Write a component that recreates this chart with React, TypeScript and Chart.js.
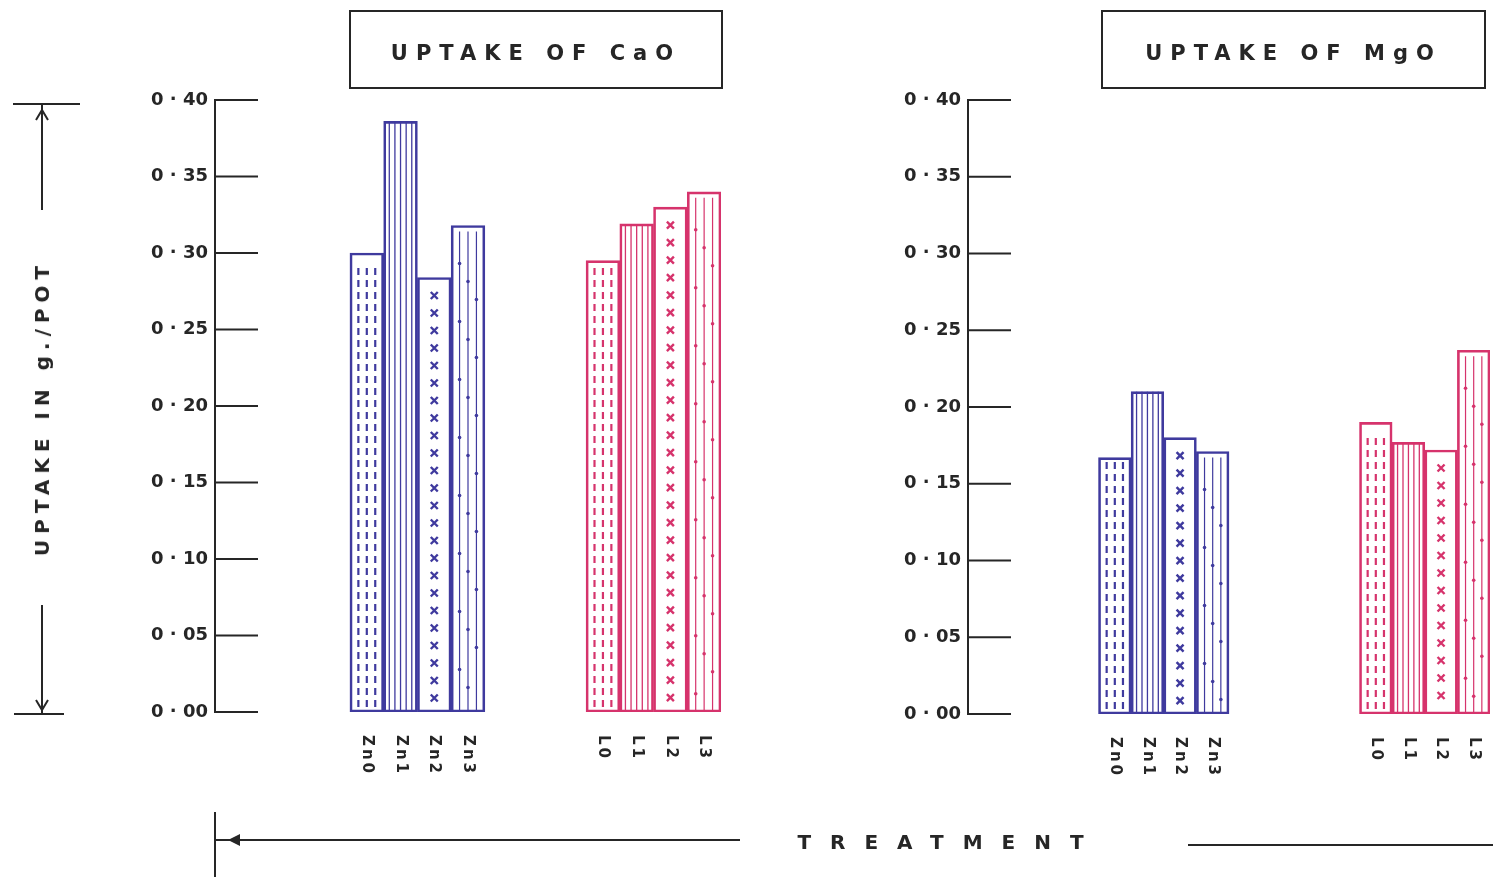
import React, { useEffect, useRef } from "react";
import { Chart, registerables } from "chart.js";

Chart.register(...registerables);

// ---------- data ----------
const znTreatments = ["Zn0", "Zn1", "Zn2", "Zn3"];
const limeTreatments = ["L0", "L1", "L2", "L3"];
const caoZn = [0.300, 0.386, 0.284, 0.318];
const caoLime = [0.295, 0.319, 0.330, 0.340];
const mgoZn = [0.167, 0.210, 0.180, 0.171];
const mgoLime = [0.190, 0.177, 0.172, 0.237];
const yTickLabels = ["0 · 00", "0 · 05", "0 · 10", "0 · 15", "0 · 20", "0 · 25", "0 · 30", "0 · 35", "0 · 40"];
const caoTitle = "UPTAKE OF CaO";
const mgoTitle = "UPTAKE OF MgO";
const yTitle = "UPTAKE IN g./POT";
const xTitle = "TREATMENT";

// ---------- styles ----------
const BLUE = "#3f3a9e";
const RED = "#d6336c";
const INK = "#262626";
const hatchStyles = ["dash", "line", "cross", "dotline"];
const FONT = "'DejaVu Sans', sans-serif";

type Table = { labels: string[]; values: (number | null)[]; colors: string[]; styles: (string | null)[] };

function buildTable(zn: number[], lime: number[], lead: number, gap: number): Table {
  const labels: string[] = [];
  const values: (number | null)[] = [];
  const colors: string[] = [];
  const styles: (string | null)[] = [];
  const blank = (n: number) => {
    for (let i = 0; i < n; i++) { labels.push(""); values.push(null); colors.push("rgba(0,0,0,0)"); styles.push(null); }
  };
  blank(lead);
  znTreatments.forEach((t, i) => { labels.push(t); values.push(zn[i]); colors.push(BLUE); styles.push(hatchStyles[i]); });
  blank(gap);
  limeTreatments.forEach((t, i) => { labels.push(t); values.push(lime[i]); colors.push(RED); styles.push(hatchStyles[i]); });
  return { labels, values, colors, styles };
}

function makeDecor(table: Table) {
  return {
    id: "decor",
    afterDatasetsDraw(chart: any) {
      const { ctx, chartArea } = chart;
      const meta = chart.getDatasetMeta(0);
      ctx.save();
      meta.data.forEach((el: any, i: number) => {
        const style = table.styles[i];
        if (!style) return;
        const { x, y, base, width } = el.getProps(["x", "y", "base", "width"], true);
        const l = x - width / 2;
        const top = y;
        const bot = base;
        ctx.strokeStyle = table.colors[i];
        ctx.fillStyle = table.colors[i];
        if (style === "dash") {
          ctx.lineWidth = 2.2;
          for (let k = 1; k <= 3; k++) {
            const px = l + (width * k) / 4;
            for (let yy = bot - 5; yy - 7 > top + 4; yy -= 12) {
              ctx.beginPath(); ctx.moveTo(px, yy); ctx.lineTo(px, yy - 7); ctx.stroke();
            }
          }
        } else if (style === "line") {
          ctx.lineWidth = 1.3;
          for (let k = 1; k <= 5; k++) {
            const px = l + (width * k) / 6;
            ctx.beginPath(); ctx.moveTo(px, top); ctx.lineTo(px, bot); ctx.stroke();
          }
        } else if (style === "cross") {
          ctx.lineWidth = 2.4;
          const s = 3.5;
          for (let yy = top + 18; yy < bot - 6; yy += 17.5) {
            ctx.beginPath();
            ctx.moveTo(x - s, yy - s); ctx.lineTo(x + s, yy + s);
            ctx.moveTo(x + s, yy - s); ctx.lineTo(x - s, yy + s);
            ctx.stroke();
          }
        } else if (style === "dotline") {
          ctx.lineWidth = 1.2;
          for (let k = 1; k <= 3; k++) {
            const px = l + (width * k) / 4;
            ctx.beginPath(); ctx.moveTo(px, top + 6); ctx.lineTo(px, bot); ctx.stroke();
            for (let yy = top + 20 + k * 18; yy < bot - 8; yy += 58) {
              ctx.beginPath(); ctx.arc(px, yy, 1.8, 0, Math.PI * 2); ctx.fill();
            }
          }
        }
      });
      // short tick bars to the right of the y axis
      const ys = chart.scales.y;
      ctx.strokeStyle = INK;
      ctx.lineWidth = 2;
      ys.ticks.forEach((t: any) => {
        const py = ys.getPixelForValue(t.value);
        ctx.beginPath(); ctx.moveTo(chartArea.left, py); ctx.lineTo(chartArea.left + 43, py); ctx.stroke();
      });
      // rotated treatment labels
      const xs = chart.scales.x;
      ctx.fillStyle = INK;
      ctx.font = `bold 15px ${FONT}`;
      (ctx as any).letterSpacing = "3px";
      ctx.textAlign = "left";
      ctx.textBaseline = "middle";
      table.labels.forEach((lab, i) => {
        if (!lab) return;
        const px = xs.getPixelForValue(i);
        ctx.save();
        ctx.translate(px, chartArea.bottom + 23);
        ctx.rotate(Math.PI / 2);
        ctx.fillText(lab, 0, 0);
        ctx.restore();
      });
      ctx.restore();
    },
  };
}

type PanelProps = {
  table: Table; left: number; width: number; height: number;
  padLeft: number; padRight: number; padTop: number; padBottom: number; yWidth: number;
};

function Panel(p: PanelProps) {
  const ref = useRef<HTMLCanvasElement | null>(null);
  useEffect(() => {
    if (!ref.current) return;
    const chart = new Chart(ref.current, {
      type: "bar",
      data: {
        labels: p.table.labels,
        datasets: [{
          data: p.table.values as any,
          backgroundColor: "rgba(255,255,255,0)",
          borderColor: p.table.colors,
          borderWidth: 2,
          borderSkipped: false,
          barPercentage: 1,
          categoryPercentage: 1,
        }],
      },
      options: {
        responsive: false,
        animation: false,
        layout: { padding: { left: p.padLeft, right: p.padRight, top: p.padTop, bottom: p.padBottom } },
        plugins: { legend: { display: false }, tooltip: { enabled: false }, title: { display: false } },
        scales: {
          x: { display: false, offset: true, grid: { display: false } },
          y: {
            min: 0, max: 0.4,
            grid: { display: false, drawTicks: false },
            border: { display: true, color: INK, width: 2 },
            ticks: {
              stepSize: 0.05,
              padding: 7,
              color: INK,
              font: { family: FONT, size: 18, weight: "bold" },
              callback: (v: any) => yTickLabels[Math.round(Number(v) / 0.05)],
            },
            afterFit: (scale: any) => { scale.width = p.yWidth; },
          },
        },
      },
      plugins: [makeDecor(p.table)],
    } as any);
    return () => chart.destroy();
  }, []);
  return (
    <canvas
      ref={ref}
      width={p.width}
      height={p.height}
      style={{ position: "absolute", left: p.left, top: 0, width: p.width, height: p.height }}
    />
  );
}

const titleStyle: React.CSSProperties = {
  position: "absolute", top: 10, height: 79, boxSizing: "border-box", paddingTop: 6,
  border: `2px solid ${INK}`, display: "flex", alignItems: "center", justifyContent: "center",
  fontFamily: FONT, fontWeight: "bold", fontSize: 21, letterSpacing: 8, color: INK, whiteSpace: "nowrap",
};

export default function App() {
  const caoTable = buildTable(caoZn, caoLime, 4, 3);
  const mgoTable = buildTable(mgoZn, mgoLime, 4, 4);
  return (
    <div style={{ position: "absolute", left: 0, top: 0, width: 1493, height: 877, background: "#fff", overflow: "hidden" }}>
      <Panel table={caoTable} left={0} width={745} height={877}
        padLeft={100} padRight={24} padTop={100} padBottom={165} yWidth={115} />
      <Panel table={mgoTable} left={870} width={623} height={877}
        padLeft={0} padRight={3} padTop={100} padBottom={163} yWidth={98} />

      <div style={{ ...titleStyle, left: 349, width: 374 }}>{caoTitle}</div>
      <div style={{ ...titleStyle, left: 1101, width: 385 }}>{mgoTitle}</div>

      <div style={{
        position: "absolute", left: 42, top: 408, transform: "translate(-50%, -50%) rotate(-90deg)",
        fontFamily: FONT, fontWeight: "bold", fontSize: 20, letterSpacing: 6, color: INK, whiteSpace: "nowrap",
      }}>{yTitle}</div>

      <div style={{
        position: "absolute", left: 950, top: 842, transform: "translate(-50%, -50%)",
        fontFamily: FONT, fontWeight: "bold", fontSize: 20, letterSpacing: 19, color: INK, whiteSpace: "nowrap",
      }}>{xTitle}</div>

      <svg width={1493} height={877} style={{ position: "absolute", left: 0, top: 0, pointerEvents: "none" }}>
        <g stroke={INK} strokeWidth={2} fill="none">
          <line x1={13} y1={104} x2={80} y2={104} />
          <line x1={42} y1={104} x2={42} y2={210} />
          <polyline points="36,120 42,110 48,120" />
          <line x1={14} y1={714} x2={64} y2={714} />
          <line x1={42} y1={605} x2={42} y2={714} />
          <polyline points="36,700 42,710 48,700" />
          <line x1={215} y1={812} x2={215} y2={877} />
          <line x1={215} y1={840} x2={740} y2={840} />
          <line x1={1188} y1={845} x2={1493} y2={845} />
        </g>
        <polygon points="228,840 240,834 240,846" fill={INK} />
      </svg>
    </div>
  );
}
